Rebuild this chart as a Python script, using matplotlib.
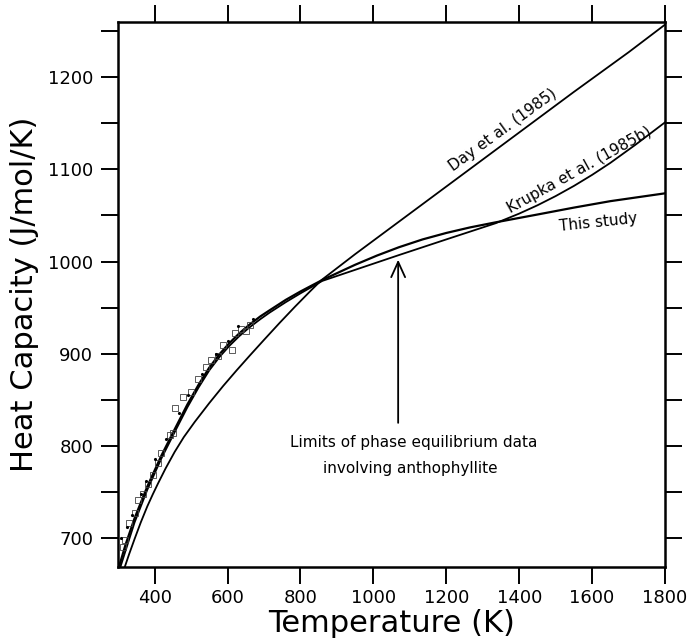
import numpy as np
import matplotlib
matplotlib.use("Agg")
import matplotlib.pyplot as plt
from matplotlib.ticker import MultipleLocator, FuncFormatter

# Curves (T in K, Cp in J/mol/K)
this_T = [302, 320, 345, 380, 418, 455, 490, 520, 550, 578, 605, 632, 660,
          690, 715, 760, 800, 860, 950, 1010, 1070, 1135, 1200, 1265, 1335,
          1450, 1550, 1650, 1800]
this_cp = [668.5, 692.5, 721.5, 756, 789, 818, 845, 866, 885, 899.5, 911.5,
           922, 931.5, 940.5, 947, 958.5, 967.5, 980, 996.5, 1006.5, 1015.5,
           1024, 1031, 1037, 1042.5, 1051, 1058.5, 1065.5, 1074]

krupka_T = [306, 320, 345, 380, 418, 455, 490, 520, 550, 578, 605, 632, 660,
            690, 715, 760, 800, 860, 950, 1070, 1200, 1335, 1400, 1450, 1500,
            1550, 1600, 1650, 1720, 1800]
krupka_cp = [668.5, 686, 717, 752.5, 786, 815, 842, 863, 882, 896.5, 908.5,
             919, 928.5, 937.5, 944.5, 956, 965.5, 979, 991, 1007, 1024, 1041.5,
             1052, 1061, 1071, 1082, 1094, 1107, 1127, 1151]

day_T = [318, 330, 345, 362, 380, 395, 409, 430, 455, 480, 510, 550, 588, 625,
         661, 700, 743, 785, 826, 858, 950, 1100, 1250, 1400, 1550, 1700, 1800]
day_cp = [668.5, 682.5, 699, 717, 734.5, 747.5, 759, 775.5, 793.5, 809.5, 826,
          846.5, 865, 882, 898, 915, 933.5, 951, 967.5, 980, 1008, 1052, 1096,
          1140, 1184, 1227, 1257]

# experimental points (open squares) and small dots
data_T = [312, 318, 331, 345, 354, 368, 382, 395, 409, 418, 442, 450, 455, 478,
          500, 519, 540, 556, 575, 588, 611, 620, 638, 652, 662]
data_cp = [690, 698, 716, 727, 741, 748, 759, 768, 781, 792, 812, 814, 841, 853,
           858, 873, 886, 893, 897, 909, 904, 922, 927, 925, 931]
dot_T = [308, 325, 338, 362, 375, 402, 430, 468, 492, 530, 568, 600, 628, 670]
dot_cp = [700, 712, 725, 748, 762, 786, 808, 836, 855, 878, 900, 914, 930, 938]

arrow_T = 1068
arrow_from = 822
arrow_to = 1005

fig = plt.figure(figsize=(6.87, 6.43), dpi=100)
ax = fig.add_axes([0.172, 0.118, 0.796, 0.848])

ax.plot(this_T, this_cp, color="black", lw=1.6)
ax.plot(krupka_T, krupka_cp, color="black", lw=1.3)
ax.plot(day_T, day_cp, color="black", lw=1.3)
ax.plot(data_T, data_cp, ls="none", marker="s", ms=4.5, mfc="none",
        mec="0.25", mew=0.6)
ax.plot(dot_T, dot_cp, ls="none", marker=".", ms=2.5, color="black")

ax.annotate("", xy=(arrow_T, arrow_to), xytext=(arrow_T, arrow_from),
            arrowprops=dict(arrowstyle="->,head_length=1.1,head_width=0.5",
                            color="black", lw=1.3))
ax.text(1110, 804, "Limits of phase equilibrium data", ha="center",
        va="center", fontsize=11)
ax.text(1100, 775, "involving anthophyllite", ha="center", va="center",
        fontsize=11)

ax.text(1355, 1143, "Day et al. (1985)", rotation=36, ha="center",
        va="center", rotation_mode="anchor", fontsize=11)
ax.text(1565, 1099, "Krupka et al. (1985b)", rotation=29, ha="center",
        va="center", rotation_mode="anchor", fontsize=11)
ax.text(1617, 1042, "This study", rotation=6, ha="center", va="center",
        rotation_mode="anchor", fontsize=11)

ax.set_xlim(300, 1800)
ax.set_ylim(668.5, 1260)
ax.xaxis.set_major_locator(MultipleLocator(200))
ax.yaxis.set_major_locator(MultipleLocator(50))
ax.yaxis.set_major_formatter(
    FuncFormatter(lambda v, p: f"{int(v)}" if v % 100 == 0 and v < 1250 else ""))
ax.tick_params(direction="out", length=12, width=1.4, labelsize=13,
               top=True, right=True, pad=4)
ax.tick_params(axis="y", pad=6)

ax.set_xlabel("Temperature (K)", fontsize=22, labelpad=1)
ax.set_ylabel("Heat Capacity (J/mol/K)", fontsize=22, labelpad=6)
for s in ax.spines.values():
    s.set_linewidth(1.8)

fig.savefig("out.png", dpi=100)
